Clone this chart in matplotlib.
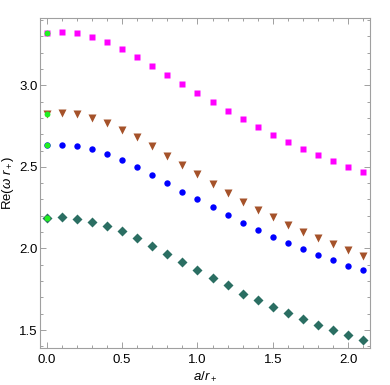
import matplotlib.pyplot as plt
import numpy as np
from matplotlib.ticker import MultipleLocator

plt.rcParams['font.family'] = ['Liberation Sans', 'DejaVu Sans']
plt.rcParams['mathtext.fontset'] = 'custom'
plt.rcParams['mathtext.rm'] = 'Liberation Sans'
plt.rcParams['mathtext.it'] = 'Liberation Sans:italic'

# Data to plot
a = [0.0, 0.1, 0.2, 0.3, 0.4, 0.5, 0.6, 0.7, 0.8, 0.9, 1.0,
     1.1, 1.2, 1.3, 1.4, 1.5, 1.6, 1.7, 1.8, 1.9, 2.0, 2.1]

squares = [3.322, 3.328, 3.318, 3.298, 3.263, 3.222, 3.171, 3.118, 3.065, 3.008, 2.952,
           2.896, 2.845, 2.792, 2.743, 2.696, 2.653, 2.610, 2.571, 2.535, 2.502, 2.469]
triangles = [2.824, 2.829, 2.822, 2.802, 2.769, 2.728, 2.682, 2.626, 2.569, 2.512, 2.456,
             2.397, 2.342, 2.287, 2.238, 2.192, 2.146, 2.102, 2.063, 2.026, 1.990, 1.955]
circles = [2.636, 2.636, 2.628, 2.608, 2.579, 2.541, 2.500, 2.453, 2.402, 2.348, 2.304,
           2.253, 2.206, 2.159, 2.114, 2.071, 2.032, 1.996, 1.961, 1.928, 1.893, 1.865]
diamonds = [2.189, 2.192, 2.183, 2.165, 2.138, 2.104, 2.063, 2.016, 1.969, 1.918, 1.869,
            1.820, 1.773, 1.722, 1.685, 1.642, 1.604, 1.569, 1.534, 1.500, 1.469, 1.438]

# values at a = 0 drawn in green
green_a = [0.0, 0.0, 0.0, 0.0]
green_vals = [3.322, 2.824, 2.636, 2.189]

fig = plt.figure(figsize=(3.9, 3.85), dpi=100)
ax = fig.add_axes([0.1026, 0.0961, 0.8461, 0.8571])

ax.plot(a, squares, 's', color='#ff00ff', ms=4.8, mec='none')
ax.plot(a, triangles, 'v', color='#a5522a', ms=6.0, mec='none')
ax.plot(a, circles, 'o', color='#0000ff', ms=4.6, mec='none')
ax.plot(a, diamonds, 'D', color='#2a6e62', ms=4.6, mec='none')
ax.plot(green_a, green_vals, 'o', color='#22ee22', ms=4.2, mec='none')

ax.set_xlim(-0.044, 2.144)
ax.set_ylim(1.39, 3.412)

ax.xaxis.set_major_locator(MultipleLocator(0.5))
ax.xaxis.set_minor_locator(MultipleLocator(0.1))
ax.yaxis.set_major_locator(MultipleLocator(0.5))
ax.yaxis.set_minor_locator(MultipleLocator(0.1))
ax.xaxis.set_major_formatter(plt.FormatStrFormatter('%.1f'))
ax.yaxis.set_major_formatter(plt.FormatStrFormatter('%.1f'))

for s in ax.spines.values():
    s.set_color('#a0a0a0')
    s.set_linewidth(0.8)
ax.tick_params(which='both', direction='in', top=True, right=True,
               color='#a0a0a0', width=0.7, labelsize=9.5, labelcolor='black')
ax.tick_params(which='major', length=4.5)
ax.tick_params(which='minor', length=2.5)
ax.tick_params(axis='x', which='major', pad=4.5)
ax.tick_params(axis='y', which='major', pad=1.5)

ax.set_xlabel(r'$a/r_+$', fontsize=9.5)
ax.set_ylabel(r'Re($\omega\ r_+$)', fontsize=9.5)
ax.xaxis.set_label_coords(0.5, -0.065)
ax.yaxis.set_label_coords(-0.072, 0.5)

plt.savefig('out.png', dpi=100)
